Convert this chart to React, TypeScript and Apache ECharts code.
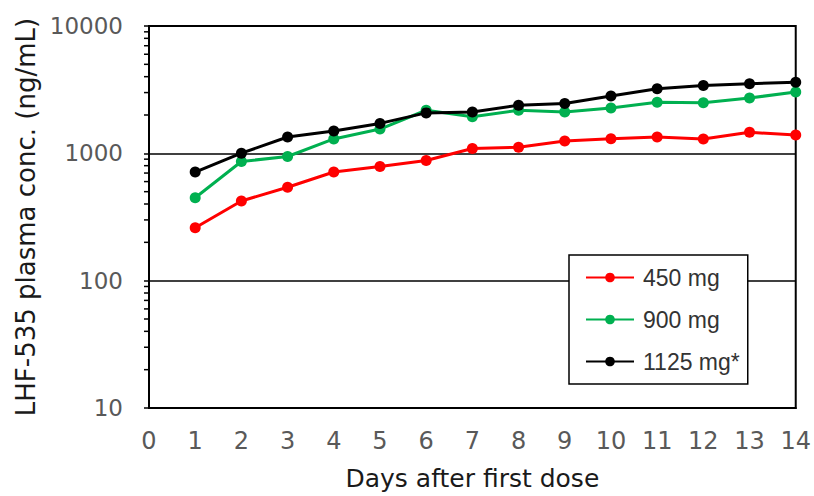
import React, { useEffect, useRef } from "react";
import * as echarts from "echarts";

const days = [1, 2, 3, 4, 5, 6, 7, 8, 9, 10, 11, 12, 13, 14];
const dose450 = [260, 422, 542, 713, 789, 879, 1090, 1117, 1251, 1303, 1343, 1297, 1462, 1393];
const dose900 = [448, 863, 944, 1297, 1551, 2180, 1935, 2180, 2113, 2274, 2518, 2500, 2721, 3030];
const dose1125 = [713, 1003, 1343, 1496, 1718, 2078, 2113, 2383, 2459, 2818, 3212, 3414, 3518, 3622];
const seriesNames = ["450 mg", "900 mg", "1125 mg*"];
const seriesColors = ["#ff0000", "#00b050", "#000000"];
const minorTicks = [
  20, 30, 40, 50, 60, 70, 80, 90,
  200, 300, 400, 500, 600, 700, 800, 900,
  2000, 3000, 4000, 5000, 6000, 7000, 8000, 9000,
];

export default function App() {
  const ref = useRef<HTMLDivElement>(null);
  useEffect(() => {
    document.body.style.margin = "0";
    const chart = echarts.init(ref.current!, null, { renderer: "svg" });
    const values = [dose450, dose900, dose1125];
    const axisFont = "DejaVu Sans";
    chart.setOption({
      animation: false,
      backgroundColor: "#ffffff",
      grid: {
        left: 149,
        right: 17,
        top: 26,
        bottom: 85,
        show: true,
        borderColor: "#000",
        borderWidth: 2,
      },
      xAxis: {
        type: "value",
        min: 0,
        max: 14,
        interval: 1,
        name: "Days after first dose",
        nameLocation: "middle",
        nameGap: 58,
        nameTextStyle: { fontFamily: axisFont, fontSize: 25, color: "#1a1a1a" },
        axisLine: { show: true, onZero: false, lineStyle: { color: "#000", width: 2 } },
        axisTick: { show: false },
        splitLine: { show: false },
        axisLabel: { fontFamily: axisFont, fontSize: 24, color: "#595959", margin: 21 },
      },
      yAxis: {
        type: "log",
        logBase: 10,
        min: 10,
        max: 10000,
        name: "LHF-535 plasma conc. (ng/mL)",
        nameLocation: "middle",
        nameGap: 110,
        nameTextStyle: { fontFamily: axisFont, fontSize: 26, color: "#1a1a1a" },
        axisLine: { show: true, lineStyle: { color: "#000", width: 2 } },
        axisTick: { show: true, inside: false, length: 5, lineStyle: { color: "#000", width: 1.5 } },
        splitLine: { show: true, lineStyle: { color: "#000", width: 1.5 } },
        axisLabel: {
          fontFamily: axisFont,
          fontSize: 23,
          color: "#595959",
          margin: 26,
          formatter: (v: number) => String(Math.round(v)),
        },
      },
      legend: {
        orient: "vertical",
        left: 569,
        top: 255,
        data: seriesNames,
        backgroundColor: "#ffffff",
        borderColor: "#000",
        borderWidth: 1.5,
        padding: [11, 8, 11, 16],
        itemWidth: 48,
        itemHeight: 12,
        itemGap: 19,
        textStyle: {
          fontFamily: "Liberation Sans, Arial, sans-serif",
          fontSize: 23,
          lineHeight: 23,
          color: "#333333",
          padding: [0, 0, 0, 4],
        },
      },
      series: [
        ...values.map((vals, i) => ({
          name: seriesNames[i],
          type: "line",
          data: days.map((d, j) => [d, vals[j]]),
          symbol: "circle",
          symbolSize: 11,
          itemStyle: { color: seriesColors[i] },
          lineStyle: { color: seriesColors[i], width: 3 },
          z: 3 + i,
        })),
        {
          type: "custom",
          silent: true,
          clip: false,
          data: minorTicks.map((v) => [0, v]),
          renderItem: (params: any, api: any) => {
            const p = api.coord([0, api.value(1)]);
            return {
              type: "line",
              shape: { x1: p[0] - 5, y1: p[1], x2: p[0], y2: p[1] },
              style: { stroke: "#000", lineWidth: 1.5 },
            };
          },
          z: 2,
        },
      ],
    });
    return () => chart.dispose();
  }, []);
  return <div ref={ref} style={{ width: 814, height: 496 }} />;
}
